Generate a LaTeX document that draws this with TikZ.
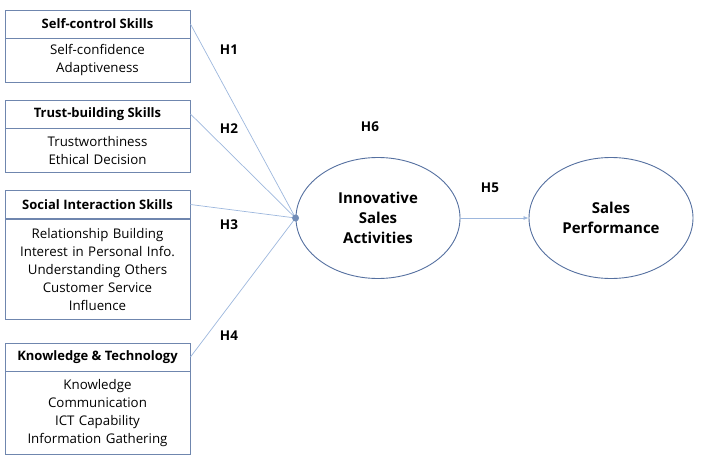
\documentclass[tikz,border=0pt]{standalone}
\usepackage{fontspec}
\setmainfont{Open Sans}
\usetikzlibrary{shapes.geometric,arrows.meta}

\definecolor{boxcol}{HTML}{6F86AE}
\definecolor{linecol}{HTML}{9DB7DD}
\definecolor{ellcol}{HTML}{5570A0}

\tikzset{
  hdr/.style={draw=boxcol, line width=0.9pt, minimum width=185pt, minimum height=28pt,
    inner sep=0pt, font=\bfseries\fontsize{13}{14}\selectfont},
  bodybox/.style={draw=boxcol, line width=0.9pt, minimum width=185pt, anchor=north,
    inner sep=0pt, text width=185pt, align=center, font=\fontsize{13.3}{18}\selectfont},
  latent/.style={ellipse, draw=ellcol, line width=0.9pt, minimum width=164pt, minimum height=121pt,
    inner sep=0pt, align=center, font=\bfseries\fontsize{15}{20}\selectfont},
  link/.style={draw=linecol, line width=0.7pt},
  hyp/.style={font=\bfseries\fontsize{13.5}{14}\selectfont}
}

\begin{document}
\begin{tikzpicture}[x=1pt, y=-1pt]
  \useasboundingbox (0,0) rectangle (712,455);

  % 左侧四个维度框：标题 + 内容
  \node[hdr] (hdrA) at (97.5,24) {Self-control Skills};
  \node[bodybox, minimum height=44pt] (bodyA) at (97.5,38) {Self-confidence\\Adaptiveness};

  \node[hdr] (hdrB) at (97.5,114) {Trust-building Skills};
  \node[bodybox, minimum height=44pt] (bodyB) at (97.5,128) {Trustworthiness\\Ethical Decision};

  \node[hdr] (hdrC) at (97.5,204.5) {Social Interaction Skills};
  \node[bodybox, minimum height=100pt] (bodyC) at (97.5,219) {Relationship Building\\Interest in Personal Info.\\Understanding Others\\Customer Service\\Influence};

  \node[hdr] (hdrD) at (97.5,357) {Knowledge \& Technology};
  \node[bodybox, minimum height=83pt] (bodyD) at (97.5,371) {Knowledge\\Communication\\ICT Capability\\Information Gathering};

  % 两个潜变量椭圆
  \node[latent] (isa) at (378,218) {Innovative\\Sales\\Activities};
  \node[latent] (perf) at (611,218) {Sales\\Performance};

  % 汇聚点与路径
  \coordinate (hub) at (isa.west);
  \draw[link] (hdrA.east) -- (hub);
  \draw[link] (hdrB.east) -- (hub);
  \draw[link] (hdrC.east) -- (hub);
  \draw[link] (hdrD.east) -- (hub);
  \fill[linecol!40!ellcol] (hub) circle (3.5pt);
  \draw[link, -{Latex[length=5pt,width=4pt]}] (isa.east) -- (perf.west);

  % 假设标签
  \node[hyp] (hA) at (229,50) {H1};
  \node[hyp] (hB) at (229,129) {H2};
  \node[hyp] (hC) at (229,225) {H3};
  \node[hyp] (hD) at (229,336) {H4};
  \node[hyp] (hF) at (370,127) {H6};
  \node[hyp] (hE) at (490,188) {H5};
\end{tikzpicture}
\end{document}
